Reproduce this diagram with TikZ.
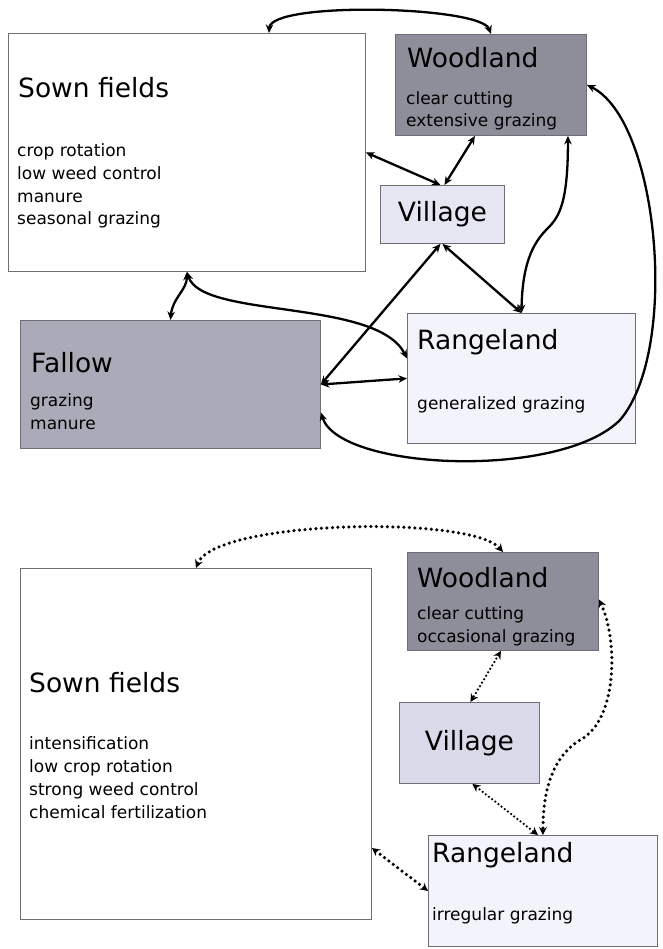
\documentclass[tikz,border=0pt]{standalone}
\usepackage{fontspec}
\setmainfont{DejaVu Sans}
\usetikzlibrary{arrows.meta,positioning}

\definecolor{boxline}{HTML}{6E6E74}
\definecolor{woodfill}{HTML}{8E8E9A}
\definecolor{fallowfill}{HTML}{AAAAB8}
\definecolor{villfill}{HTML}{E6E6F2}
\definecolor{villfillB}{HTML}{D9D9EA}
\definecolor{rangefill}{HTML}{F3F4FB}

\begin{document}
\begin{tikzpicture}[x=1pt,y=-1pt,
    box/.style={draw=boxline,line width=0.9pt,anchor=north west,inner sep=0pt},
    ttl/.style={anchor=base west,inner sep=0pt,font=\fontsize{26.5}{30}\selectfont},
    items/.style={anchor=base west,inner sep=0pt,align=left,font=\fontsize{17}{22.7}\selectfont},
    link/.style={line width=2.3pt,{Stealth[length=8.5pt,width=7.5pt]}-{Stealth[length=8.5pt,width=7.5pt]}},
    dots/.style={line width=3.5pt,line cap=round,dash pattern=on 0pt off 5.5pt,
      {Stealth[length=8pt,width=8pt]}-{Stealth[length=8pt,width=8pt]}},
    thindots/.style={dots,line width=2.5pt,dash pattern=on 0pt off 4pt}]
  \useasboundingbox (0,0) rectangle (662,949);

  % before
  \node[box,minimum width=357pt,minimum height=238pt] (sownA) at (8,33) {};
  \node[box,fill=woodfill,minimum width=191pt,minimum height=101pt] (woodA) at (395,34) {};
  \node[box,fill=villfill,minimum width=124pt,minimum height=58pt,
        font=\fontsize{26.5}{30}\selectfont] (villA) at (380,185) {Village};
  \node[box,fill=rangefill,minimum width=228pt,minimum height=130pt] (rangeA) at (407,313) {};
  \node[box,fill=fallowfill,minimum width=300pt,minimum height=128pt] (fallA) at (20,320) {};

  \node[ttl] (sownAT) at (18,98) {Sown fields};
  \node[items] (sownAI) at (17,225) {crop rotation\\low weed control\\manure\\seasonal grazing};
  \node[ttl] (woodAT) at (407,68) {Woodland};
  \node[items] (woodAI) at (406,127) {clear cutting\\extensive grazing};
  \node[ttl] (rangeAT) at (417,349) {Rangeland};
  \node[items] (rangeAI) at (417,409) {generalized grazing};
  \node[ttl] (fallAT) at (31,372) {Fallow};
  \node[items] (fallAI) at (30,429) {grazing\\manure};

  \coordinate (bendA) at (548,228);
  \coordinate (turnA) at (620,420);
  \draw[link] ([xshift=82pt]sownA.north) .. controls +(2,-32) and +(-10,-28) .. (woodA.north);
  \draw[link] (sownA.east) -- ([xshift=-2pt]villA.north);
  \draw[link] ([xshift=-16pt]woodA.south) -- ([xshift=2pt]villA.north);
  \draw[link] ([xshift=77pt]woodA.south) .. controls +(0,65) and +(12,-12) .. (bendA)
              .. controls +(-12,12) and +(1,-55) .. (rangeA.north);
  \draw[link] (villA.south) -- (rangeA.north);
  \draw[link] ([xshift=-2pt]villA.south) -- (fallA.east);
  \draw[link] (sownA.south) .. controls +(0,18) and +(2,-22) .. (fallA.north);
  \draw[link] (sownA.south) .. controls +(15,47) and +(-30,-60) .. ([yshift=20pt]rangeA.west);
  \draw[link] (fallA.east) .. controls +(30,-2) and +(-30,2) .. (rangeA.west);
  \draw[link] ([yshift=-28pt]fallA.east) .. controls +(18,58) and +(-60,60) .. (turnA)
              .. controls +(60,-70) and +(72,35) .. (woodA.east);

  % after
  \node[box,fill=woodfill,minimum width=191pt,minimum height=98pt] (woodB) at (407,552) {};
  \node[box,minimum width=351pt,minimum height=351pt] (sownB) at (20,568) {};
  \node[box,fill=villfillB,minimum width=140pt,minimum height=81pt,
        font=\fontsize{26.5}{30}\selectfont] (villB) at (399,702) {Village};
  \node[box,fill=rangefill,minimum width=229pt,minimum height=111pt] (rangeB) at (428,835) {};

  \node[ttl] (woodBT) at (417,587) {Woodland};
  \node[items] (woodBI) at (417,642) {clear cutting\\occasional grazing};
  \node[ttl] (sownBT) at (29,692) {Sown fields};
  \node[items] (sownBI) at (29,818) {intensification\\low crop rotation\\strong weed control\\chemical fertilization};
  \node[ttl] (rangeBT) at (432,862) {Rangeland};
  \node[items] (rangeBI) at (432,920) {irregular grazing};

  \coordinate (bendB) at (580,740);
  \draw[dots] (sownB.north) .. controls +(19,-48) and +(-32,-37) .. (woodB.north);
  \draw[thindots] ([xshift=-2pt]woodB.south) -- ([xshift=1pt]villB.north);
  \draw[dots] ([yshift=2pt]woodB.east) .. controls +(19,40) and +(38,-20) .. (bendB)
              .. controls +(-32,20) and +(0,-35) .. (rangeB.north);
  \draw[thindots] ([xshift=3pt]villB.south) -- ([xshift=-5pt]rangeB.north);
  \draw[dots] ([yshift=-104pt]sownB.east) -- (rangeB.west);
\end{tikzpicture}
\end{document}
